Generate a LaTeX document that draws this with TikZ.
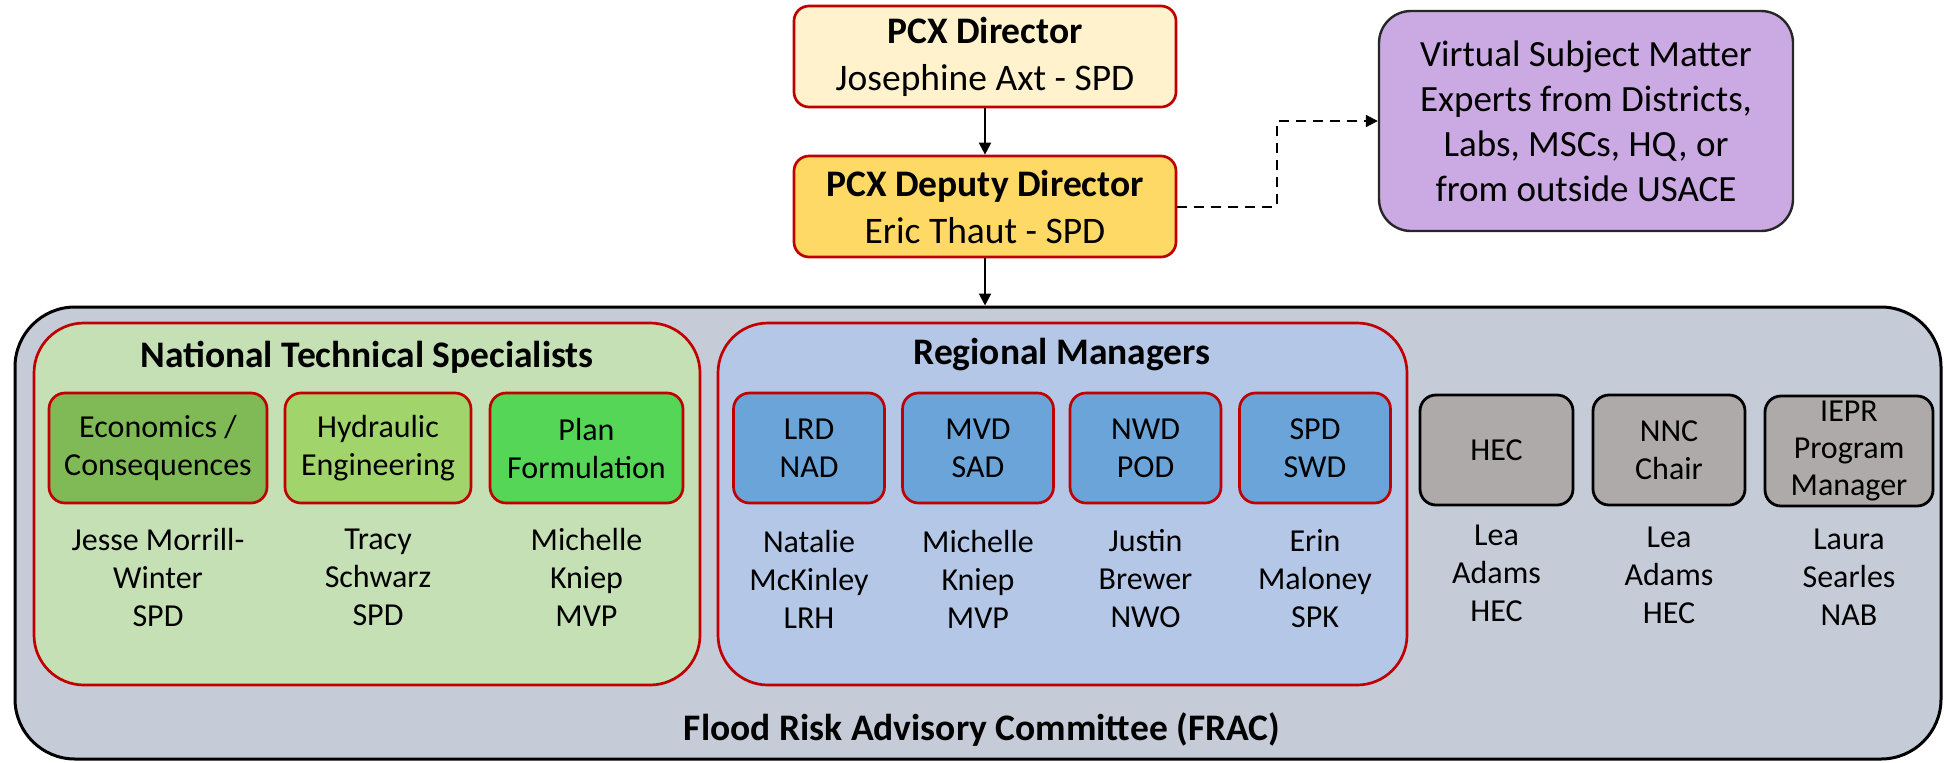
\documentclass[tikz,border=0pt]{standalone}
\usepackage{fontspec}
\setmainfont{Carlito}
\usetikzlibrary{arrows.meta}
\definecolor{redb}{HTML}{C00000}
\definecolor{dirfill}{HTML}{FFF2CC}
\definecolor{depfill}{HTML}{FFD966}
\definecolor{purp}{HTML}{CBA9E3}
\definecolor{outerfill}{HTML}{C5CCD8}
\definecolor{ntsfill}{HTML}{C5E0B4}
\definecolor{econfill}{HTML}{7FBA57}
\definecolor{hydfill}{HTML}{A1D46A}
\definecolor{planfill}{HTML}{56D656}
\definecolor{rmfill}{HTML}{B4C7E7}
\definecolor{bluefill}{HTML}{6BA4D8}
\definecolor{grayfill}{HTML}{AEAAAA}
\tikzset{
  bigfont/.style={font=\fontsize{18.75}{23.5}\selectfont},
  smallfont/.style={font=\fontsize{16}{19}\selectfont},
  headbox/.style={draw=redb, line width=1.35pt, rounded corners=7.5pt, align=center, inner sep=0pt, minimum width=191pt, minimum height=50.5pt, bigfont},
  groupbox/.style={draw=redb, line width=1.35pt, rounded corners=25pt, inner sep=0pt, minimum height=181pt},
  subbox/.style={draw=redb, line width=1.35pt, rounded corners=8pt, align=center, inner sep=0pt, minimum height=55pt, smallfont},
  graybox/.style={draw=black, line width=1.4pt, fill=grayfill, rounded corners=8pt, align=center, inner sep=0pt, minimum height=55pt, smallfont},
  namelbl/.style={align=center, inner sep=0pt, smallfont},
  titlelbl/.style={inner sep=0pt, bigfont, font=\fontsize{18.75}{23.5}\selectfont\bfseries},
  conn/.style={line width=1pt, -{Triangle[length=6pt, width=6pt]}},
}
\begin{document}
\begin{tikzpicture}[x=0.5pt, y=-0.5pt]
\useasboundingbox (0,0) rectangle (1944,762);
% outer FRAC box
\node[draw=black, line width=1.5pt, fill=outerfill, rounded corners=30pt, minimum width=963pt, minimum height=226pt, inner sep=0pt] (frac) at (978,533) {};
\node[titlelbl] (fractitle) at (982,730) {Flood Risk Advisory Committee (FRAC)};
% top boxes
\node[headbox, fill=dirfill] (dir) at (985,56.5) {\textbf{PCX Director}\\Josephine Axt - SPD};
\node[headbox, fill=depfill] (dep) at (985,206.5) {\textbf{PCX Deputy Director}\\Eric Thaut - SPD};
\node[draw=black!85, line width=1.2pt, fill=purp, rounded corners=16pt, minimum width=207pt, minimum height=110pt, align=center, inner sep=0pt, font=\fontsize{18.5}{22.5}\selectfont] (vsme) at (1586,121) {Virtual Subject Matter\\Experts from Districts,\\Labs, MSCs, HQ, or\\from outside USACE};
% connectors
\draw[conn] (dir.south) -- (dep.north);
\draw[conn] (dep.south) -- (dep.south |- frac.north);
\coordinate (bend) at (1277,206.5);
\draw[conn, dashed, dash pattern=on 5pt off 3.5pt] (dep.east) -- (bend) |- (vsme.west);
% NTS group
\node[groupbox, fill=ntsfill, minimum width=333pt] (nts) at (367,504) {};
\node[titlelbl] (ntstitle) at (367,357) {National Technical Specialists};
\node[subbox, fill=econfill, minimum width=109pt] (econ) at (158,448) {Economics /\\Consequences};
\node[subbox, fill=hydfill, minimum width=93pt] (hyd) at (378,448) {Hydraulic\\Engineering};
\node[subbox, fill=planfill, minimum width=96.5pt] (plan) at (586.5,448) {Plan\\Formulation};
\node[namelbl] (n1) at (158,577) {Jesse Morrill-\\Winter\\SPD};
\node[namelbl] (n2) at (378,577) {Tracy\\Schwarz\\SPD};
\node[namelbl] (n3) at (586.5,577) {Michelle\\Kniep\\MVP};
% RM group
\node[groupbox, fill=rmfill, minimum width=344.5pt] (rm) at (1062.5,504) {};
\node[titlelbl] (rmtitle) at (1062,355) {Regional Managers};
\node[subbox, fill=bluefill, minimum width=75.5pt] (lrd) at (809,448) {LRD\\NAD};
\node[subbox, fill=bluefill, minimum width=75.5pt] (mvd) at (978,448) {MVD\\SAD};
\node[subbox, fill=bluefill, minimum width=75.5pt] (nwd) at (1145.5,448) {NWD\\POD};
\node[subbox, fill=bluefill, minimum width=75.5pt] (spd) at (1315,448) {SPD\\SWD};
\node[namelbl] (n4) at (809,579) {Natalie\\McKinley\\LRH};
\node[namelbl] (n5) at (978,579) {Michelle\\Kniep\\MVP};
\node[namelbl] (n6) at (1145.5,579) {Justin\\Brewer\\NWO};
\node[namelbl] (n7) at (1315,579) {Erin\\Maloney\\SPK};
% gray boxes
\node[graybox, minimum width=76.5pt] (hec) at (1496.5,450) {HEC};
\node[graybox, minimum width=76pt] (nnc) at (1669,450) {NNC\\Chair};
\node[graybox, minimum width=84pt, font=\fontsize{16}{18.5}\selectfont] (iepr) at (1849,451) {IEPR\\Program\\Manager};
\node[namelbl] (n8) at (1496.5,573) {Lea\\Adams\\HEC};
\node[namelbl] (n9) at (1669,575) {Lea\\Adams\\HEC};
\node[namelbl] (n10) at (1849,577) {Laura\\Searles\\NAB};
\end{tikzpicture}
\end{document}
